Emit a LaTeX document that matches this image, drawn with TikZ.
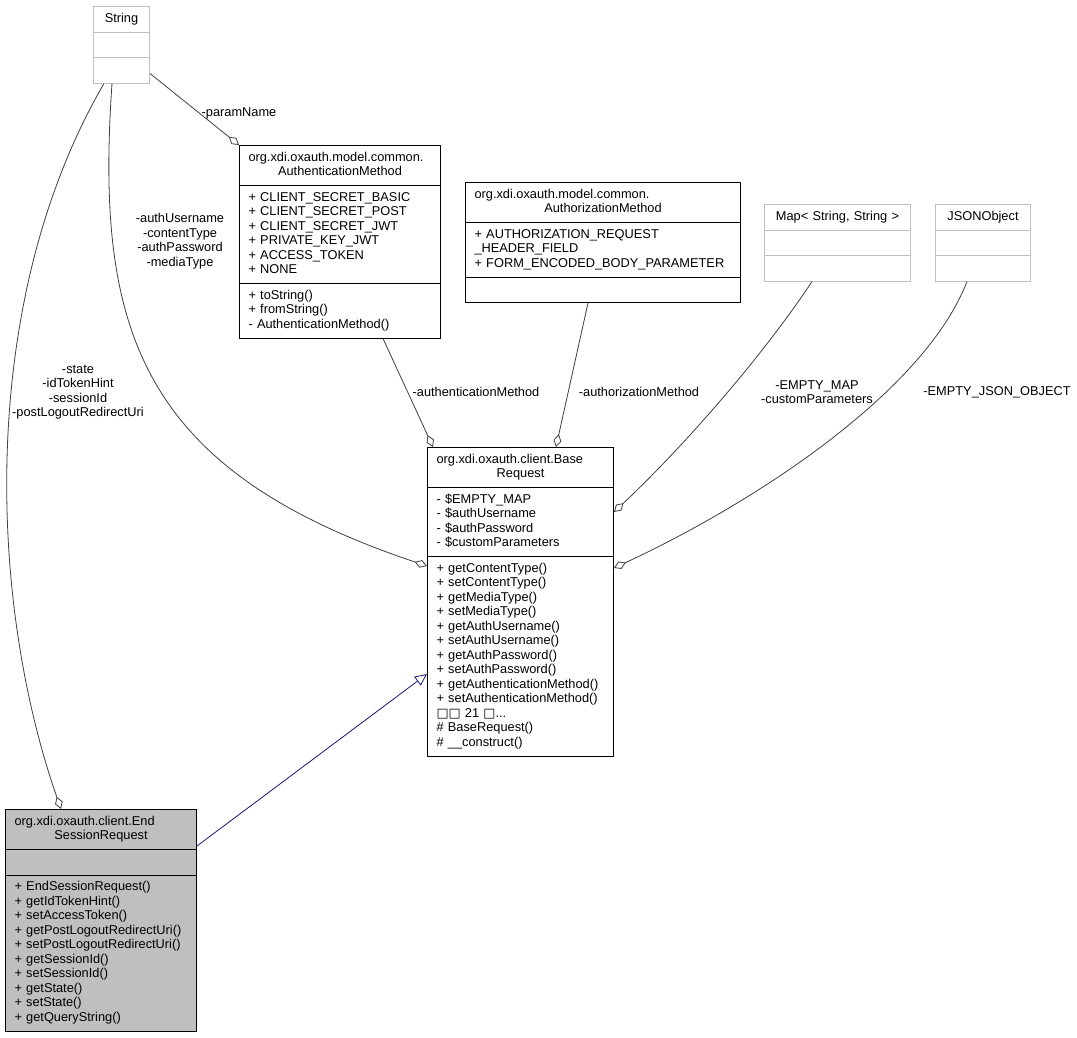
\documentclass[tikz,border=0pt]{standalone}
\usepackage{fontspec}
\setmainfont{Liberation Sans}
\newfontfamily\symfont{DejaVu Sans}
\usetikzlibrary{shapes.multipart,arrows.meta}
\setlength{\parindent}{0pt}
\definecolor{edgegrey}{HTML}{404040}
\definecolor{boxgrey}{HTML}{BFBFBF}
\definecolor{navyline}{HTML}{191970}
\newcommand{\twoline}[2]{\strut\makebox[\hsize][l]{#1}\\\makebox[\hsize][c]{#2}\strut}
\newcommand{\oneline}[1]{\strut\makebox[\hsize][c]{#1}}
\begin{document}
\begin{tikzpicture}[x=1pt,y=-1pt,
  every node/.style={font=\fontsize{12.8}{14.5}\selectfont},
  umlclass/.style={rectangle split, rectangle split parts=3, draw, line width=1pt,
    align=left, inner xsep=9pt, inner ysep=5pt, anchor=north west},
  extclass/.style={umlclass, draw=boxgrey},
  assoc/.style={draw=edgegrey, line width=0.8pt, -{Diamond[open,length=13pt,width=8pt]}},
  inherit/.style={draw=navyline, line width=0.8pt, -{Triangle[open,length=12pt,width=11pt]}},
  role/.style={align=center, inner sep=0pt}]
\useasboundingbox[fill=white] (0,0) rectangle (1077,1037);

% classes
\node[extclass, text width=38pt] (str) at (93,6) {\oneline{String}
  \nodepart{second}\strut
  \nodepart{third}\strut};
\node[umlclass, text width=183pt] (authn) at (239,145)
  {\twoline{org.xdi.oxauth.model.common.}{AuthenticationMethod}
  \nodepart{second}\strut + CLIENT\_SECRET\_BASIC\\+ CLIENT\_SECRET\_POST\\+ CLIENT\_SECRET\_JWT\\+ PRIVATE\_KEY\_JWT\\+ ACCESS\_TOKEN\\+ NONE\strut
  \nodepart{third}\strut + toString()\\+ fromString()\\- AuthenticationMethod()\strut};
\node[umlclass, text width=257pt] (authz) at (465,182)
  {\twoline{org.xdi.oxauth.model.common.}{AuthorizationMethod}
  \nodepart{second}\strut + AUTHORIZATION\_REQUEST\\\_HEADER\_FIELD\\+ FORM\_ENCODED\_BODY\_PARAMETER\strut
  \nodepart{third}\strut};
\node[extclass, text width=128pt] (map) at (764,204) {\oneline{Map< String, String >}
  \nodepart{second}\strut
  \nodepart{third}\strut};
\node[extclass, text width=77pt] (json) at (935,204) {\oneline{JSONObject}
  \nodepart{second}\strut
  \nodepart{third}\strut};
\node[umlclass, text width=168pt] (base) at (427,447)
  {\twoline{org.xdi.oxauth.client.Base}{Request}
  \nodepart{second}\strut - \$EMPTY\_MAP\\- \$authUsername\\- \$authPassword\\- \$customParameters\strut
  \nodepart{third}\strut + getContentType()\\+ setContentType()\\+ getMediaType()\\+ setMediaType()\\+ getAuthUsername()\\+ setAuthUsername()\\+ getAuthPassword()\\+ setAuthPassword()\\+ getAuthenticationMethod()\\+ setAuthenticationMethod()\\{\symfont □□} 21 {\symfont □}...\\\# BaseRequest()\\\# \_\_construct()\strut};
\node[umlclass, fill=boxgrey, text width=173pt] (ess) at (5,809)
  {\twoline{org.xdi.oxauth.client.End}{SessionRequest}
  \nodepart{second}\strut
  \nodepart{third}\strut + EndSessionRequest()\\+ getIdTokenHint()\\+ setAccessToken()\\+ getPostLogoutRedirectUri()\\+ setPostLogoutRedirectUri()\\+ getSessionId()\\+ setSessionId()\\+ getState()\\+ setState()\\+ getQueryString()\strut};

% role labels
\node[role] (lparam) at (239,113) {-paramName};
\node[role] (lauth) at (180,241) {-authUsername\\-contentType\\-authPassword\\-mediaType};
\node[role] (lstate) at (78,392) {-state\\-idTokenHint\\-sessionId\\-postLogoutRedirectUri};
\node[role] (lamethod) at (476,392) {-authenticationMethod};
\node[role] (lzmethod) at (639,392) {-authorizationMethod};
\node[role] (lmap) at (817,392) {-EMPTY\_MAP\\-customParameters};
\node[role] (ljson) at (997,392) {-EMPTY\_JSON\_OBJECT};

% associations
\draw[assoc] ([yshift=10pt]str.south east) -- (authn.north west);
\draw[assoc] ([xshift=19pt]str.south west) .. controls (95,330) and (140,470) .. ([yshift=-119pt]base.north west);
\draw[assoc] ([xshift=11pt]str.south west) .. controls (-22,300) and (-12,600) .. ([xshift=56pt]ess.north west);
\draw[assoc] ([xshift=144pt]authn.south west) -- ([xshift=6pt]base.north west);
\draw[assoc] ([xshift=123pt]authz.south west) -- ([xshift=129pt]base.north west);
\draw[assoc] ([xshift=48pt]map.south west) .. controls (760,360) and (680,450) .. ([yshift=-65pt]base.north east);
\draw[assoc] ([xshift=32pt]json.south west) .. controls (925,390) and (760,500) .. ([yshift=-121pt]base.north east);

% generalization
\draw[inherit] ([yshift=-37pt]ess.north east) -- ([yshift=-227pt]base.north west);
\end{tikzpicture}
\end{document}
